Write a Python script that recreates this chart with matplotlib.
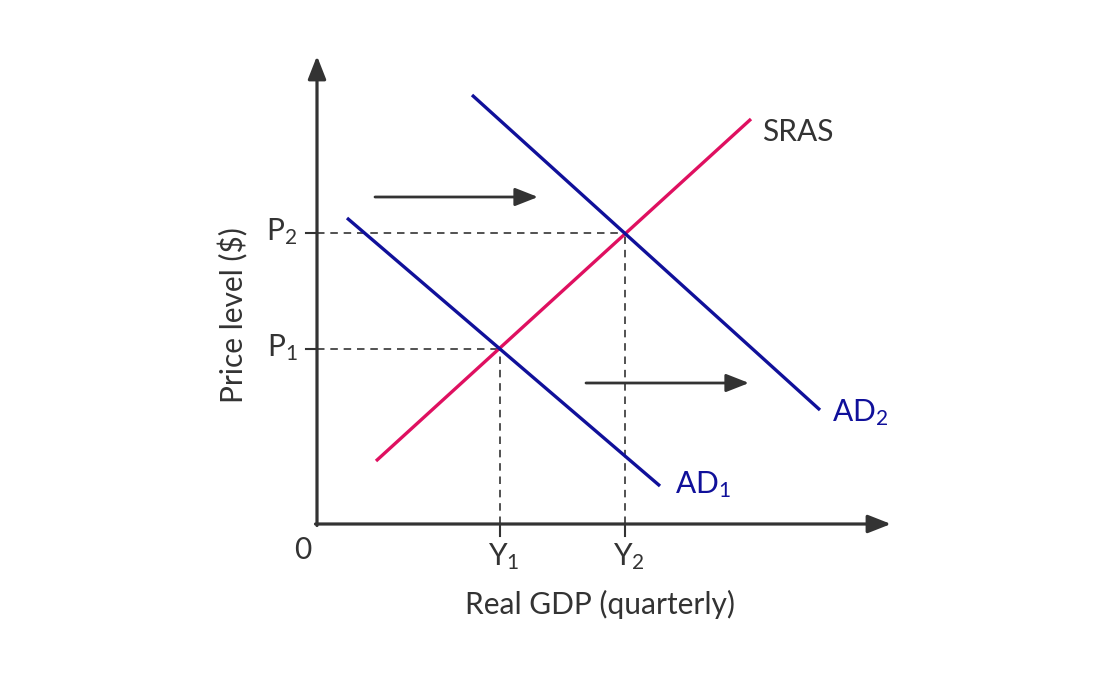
import matplotlib
matplotlib.use("Agg")
import matplotlib.pyplot as plt

plt.rcParams['font.family'] = ['Lato', 'DejaVu Sans']
plt.rcParams['mathtext.fontset'] = 'custom'
plt.rcParams['mathtext.rm'] = 'Lato'
plt.rcParams['mathtext.it'] = 'Lato'

# Curves (arbitrary model units)
sras_x = [59, 434]
sras_y = [63, 405]
ad1_x = [30, 343]
ad1_y = [306, 38]
ad2_x = [155, 503]
ad2_y = [429, 114]

# Equilibria
price_levels = [175, 291]
price_labels = [r'$\mathrm{P}_1$', r'$\mathrm{P}_2$']
outputs = [183, 308]
output_labels = [r'$\mathrm{Y}_1$', r'$\mathrm{Y}_2$']

# Shift arrows
shift_x0 = [58, 269]
shift_x1 = [221, 432]
shift_y = [327, 141]

x_axis_end = 574
y_axis_end = 468

BLUE = '#10109a'
RED = '#df1060'
DARK = '#333333'
FS = 21.5

fig = plt.figure(figsize=(10.93, 6.76), dpi=100)
ax = fig.add_axes([0, 0, 1, 1])
ax.set_xlim(-317, 776)
ax.set_ylim(-152, 524)
ax.axis('off')

# axes with arrows
ax.annotate('', xy=(x_axis_end, 0), xytext=(-1.5, 0),
            arrowprops=dict(arrowstyle='-|>,head_length=1.4,head_width=0.55', color=DARK, lw=2.3,
                            shrinkA=0, shrinkB=0))
ax.annotate('', xy=(0, y_axis_end), xytext=(0, -1.5),
            arrowprops=dict(arrowstyle='-|>,head_length=1.4,head_width=0.55', color=DARK, lw=2.3,
                            shrinkA=0, shrinkB=0))

# dashed guides and ticks
for p, lab, yv in zip(price_levels, price_labels, outputs):
    ax.plot([0, yv], [p, p], ls=(0, (4.5, 3.5)), color=DARK, lw=1.2)
    ax.plot([-11, 0], [p, p], color=DARK, lw=1.5)
    ax.text(-19.5, p + 1, lab, ha='right', va='center', fontsize=FS, color=DARK)
for yv, p, lab in zip(outputs, price_levels, output_labels):
    ax.plot([yv, yv], [0, p], ls=(0, (4.5, 3.5)), color=DARK, lw=1.2)
    ax.plot([yv, yv], [0, -12], color=DARK, lw=1.5)
    ax.text(yv + 4, -33, lab, ha='center', va='center', fontsize=FS, color=DARK)

ax.text(-14, -26, '0', ha='center', va='center', fontsize=FS, color=DARK)

# curves
ax.plot(sras_x, sras_y, color=RED, lw=2.4, solid_capstyle='butt')
ax.plot(ad1_x, ad1_y, color=BLUE, lw=2.4, solid_capstyle='butt')
ax.plot(ad2_x, ad2_y, color=BLUE, lw=2.4, solid_capstyle='butt')

ax.text(sras_x[1] + 11, sras_y[1] - 13, 'SRAS', ha='left', va='center', fontsize=FS, color=DARK)
ax.text(ad1_x[1] + 15, ad1_y[1] + 1, r'$\mathrm{AD}_1$', ha='left', va='center', fontsize=FS, color=BLUE)
ax.text(ad2_x[1] + 12, ad2_y[1] - 3, r'$\mathrm{AD}_2$', ha='left', va='center', fontsize=FS, color=BLUE)

# shift arrows
for x0, x1, y in zip(shift_x0, shift_x1, shift_y):
    ax.annotate('', xy=(x1, y), xytext=(x0, y),
                arrowprops=dict(arrowstyle='-|>,head_length=1.4,head_width=0.55', color=DARK, lw=2.0,
                                shrinkA=0, shrinkB=0))

ax.text(283, -80, 'Real GDP (quarterly)', ha='center', va='center', fontsize=FS, color=DARK)
ax.text(-84, 209, 'Price level ($)', ha='center', va='center', rotation=90, fontsize=FS, color=DARK)

fig.savefig('out.png', dpi=100)
